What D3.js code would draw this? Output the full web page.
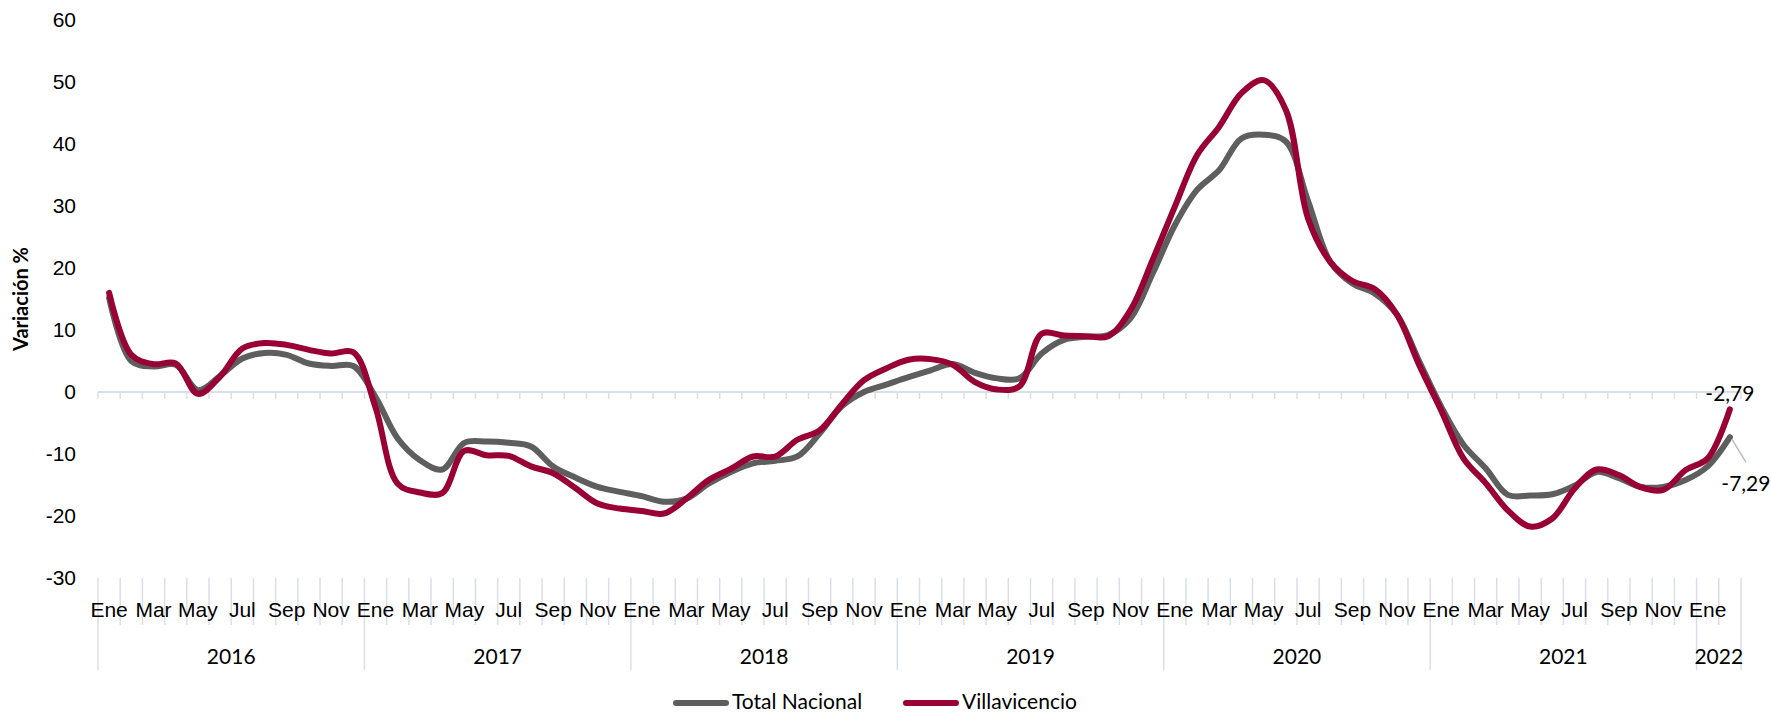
<!DOCTYPE html>
<html>
<head>
<meta charset="utf-8">
<script src="https://cdn.jsdelivr.net/npm/d3@7"></script>
<style>
  body { margin: 0; background: #fff; }
  svg { display: block; font-family: Lato, "Open Sans", sans-serif; }
  .lbl { fill: #000; font-size: 21px; }
</style>
</head>
<body>
<div id="chart"></div>
<script>
// categories
const monthNames = ["Ene", "Feb", "Mar", "Abr", "May", "Jun", "Jul", "Ago", "Sep", "Oct", "Nov", "Dic"]
const yearLabels = ["2016", "2017", "2018", "2019", "2020", "2021", "2022"]
const monthsPerYear = [12, 12, 12, 12, 12, 12, 2]

// series (variación %)
const totalNacional = [
    15.2, 5.0, 4.1, 4.4, 0.3, 2.6, 5.4, 6.3, 6.0, 4.6, 4.2, 4.2,
    -0.8, -7.5, -11.0, -12.5, -8.2, -8.0, -8.2, -8.8, -12.0, -13.8, -15.3, -16.1,
    -16.8, -17.7, -17.2, -14.8, -12.9, -11.5, -11.1, -10.4, -6.7, -2.3, 0.0, 1.2,
    2.4, 3.5, 4.5, 3.1, 2.2, 2.2, 6.2, 8.4, 8.9, 9.2, 11.9, 19.1,
    26.9, 32.6, 35.8, 40.9, 41.5, 40.4, 30.8, 21.0, 17.5, 15.9, 12.5, 5.0,
    -2.4, -8.5, -12.3, -16.6, -16.7, -16.5, -15.1, -12.9, -13.9, -15.3, -15.3, -14.2,
    -12.0, -7.29
]
const villavicencio = [
    16.0, 6.0, 4.5, 4.6, -0.3, 2.5, 7.0, 7.9, 7.6, 6.8, 6.2, 6.4,
    -2.5, -14.8, -16.2, -16.3, -9.5, -10.2, -10.3, -12.0, -13.1, -15.5, -18.0, -18.8,
    -19.2, -19.6, -17.2, -14.2, -12.4, -10.4, -10.4, -7.7, -6.2, -2.0, 1.9, 3.8,
    5.2, 5.3, 4.4, 1.6, 0.4, 0.9, 9.4, 9.1, 9.0, 9.0, 13.2, 21.3,
    29.9, 38.2, 42.8, 48.2, 50.3, 45.5, 28.0, 21.0, 17.9, 16.6, 12.5, 4.4,
    -3.0, -10.7, -14.7, -19.1, -21.7, -20.4, -15.6, -12.5, -13.4, -15.4, -15.8, -12.6,
    -10.7, -2.79
]
const yTicks = [-30, -20, -10, 0, 10, 20, 30, 40, 50, 60]

const series = [
    {name: "Total Nacional", values: totalNacional, color: "#5e5e5e"},
    {name: "Villavicencio", values: villavicencio, color: "#990033"},
]

// one category per month, labelled with its month and year
const categories = yearLabels.flatMap((yr, j) =>
    d3.range(monthsPerYear[j]).map(m => ({month: monthNames[m], year: yr, m}))
)

const width = 1771, height = 716
const lineColor = "#dadfe7"

const svg = d3.select("#chart").append("svg")
    .attr("width", width)
    .attr("height", height)

const x = d3.scaleBand()
    .domain(d3.range(categories.length))
    .range([98, 1741])

const y = d3.scaleLinear()
    .domain([-30, 60])
    .range([578, 20])

const cx = i => x(i) + x.bandwidth() / 2
const fmt = d3.formatLocale({decimal: ",", thousands: ".", grouping: [3], currency: ["", ""], minus: "-"}).format(".2f")

// value axis labels
svg.append("g")
    .attr("transform", "translate(76,0)")
    .call(d3.axisLeft(y).tickValues(yTicks).tickSize(0).tickPadding(0).tickFormat(d => String(d)))
    .call(g => g.select(".domain").remove())
    .selectAll("text")
    .attr("class", "lbl")
    .attr("font-family", null)
    .attr("font-size", null)

svg.append("text")
    .attr("class", "lbl")
    .attr("transform", `translate(28,${y(15)}) rotate(-90)`)
    .attr("text-anchor", "middle")
    .attr("font-weight", "bold")
    .style("font-size", "20px")
    .text("Variación %")

// category axis line at zero with tick marks
const y0 = y(0)
svg.append("line")
    .attr("x1", x.range()[0]).attr("x2", x.range()[1])
    .attr("y1", y0).attr("y2", y0)
    .attr("stroke", lineColor).attr("stroke-width", 2)

const bounds = d3.range(categories.length + 1).map(k => x.range()[0] + k * x.step())
svg.append("g").selectAll("line")
    .data(bounds)
    .enter()
    .append("line")
    .attr("x1", d => d).attr("x2", d => d)
    .attr("y1", y0).attr("y2", y0 + 7)
    .attr("stroke", lineColor).attr("stroke-width", 1.5)

// label area separators (months short, years long)
const yearStarts = new Set([...d3.cumsum([0, ...monthsPerYear])])
svg.append("g").selectAll("line")
    .data(bounds)
    .enter()
    .append("line")
    .attr("x1", d => d).attr("x2", d => d)
    .attr("y1", y(-30))
    .attr("y2", (d, k) => yearStarts.has(k) ? 670 : 625)
    .attr("stroke", lineColor).attr("stroke-width", 1.5)

// month labels every other month
svg.append("g")
    .attr("transform", "translate(0,610)")
    .call(d3.axisBottom(x)
        .tickValues(d3.range(categories.length).filter(i => i % 2 === 0))
        .tickSize(0).tickPadding(0)
        .tickFormat(i => categories[i].month))
    .call(g => g.select(".domain").remove())
    .selectAll("text")
    .attr("class", "lbl")
    .attr("font-family", null)
    .attr("font-size", null)
    .attr("dy", "0.35em")

// year labels centred on their months
const yearOffsets = d3.cumsum([0, ...monthsPerYear])
svg.append("g").selectAll("text")
    .data(yearLabels)
    .enter()
    .append("text")
    .attr("class", "lbl")
    .attr("text-anchor", "middle")
    .attr("x", (d, j) => (x(yearOffsets[j]) + x(yearOffsets[j + 1] - 1) + x.bandwidth()) / 2)
    .attr("y", 657)
    .attr("dy", "0.35em")
    .text(d => d)

// lines
const line = d3.line()
    .x((d, i) => cx(i))
    .y(d => y(d))
    .curve(d3.curveCatmullRom.alpha(0.5))

svg.append("g").selectAll("path")
    .data(series)
    .enter()
    .append("path")
    .attr("d", s => line(s.values))
    .attr("fill", "none")
    .attr("stroke", s => s.color)
    .attr("stroke-width", 6)
    .attr("stroke-linecap", "round")
    .attr("stroke-linejoin", "round")

// end labels
const last = categories.length - 1
svg.append("text")
    .attr("class", "lbl")
    .attr("text-anchor", "middle")
    .attr("x", cx(last))
    .attr("y", y(villavicencio[last]) - 16)
    .attr("dy", "0.35em")
    .text(fmt(villavicencio[last]))

svg.append("line")
    .attr("x1", cx(last) + 2).attr("y1", y(totalNacional[last]) + 2)
    .attr("x2", cx(last) + 16).attr("y2", y(totalNacional[last]) + 25)
    .attr("stroke", "#b4bfcc").attr("stroke-width", 1.5)

svg.append("text")
    .attr("class", "lbl")
    .attr("text-anchor", "middle")
    .attr("x", cx(last) + 16)
    .attr("y", y(totalNacional[last]) + 46)
    .attr("dy", "0.35em")
    .text(fmt(totalNacional[last]))

// legend
const legend = svg.append("g").selectAll("g")
    .data(series)
    .enter()
    .append("g")
    .attr("transform", (d, i) => `translate(${[676, 906][i]},703)`)

legend.append("line")
    .attr("x1", 0).attr("x2", 50)
    .attr("stroke", d => d.color)
    .attr("stroke-width", 6)
    .attr("stroke-linecap", "round")

legend.append("text")
    .attr("class", "lbl")
    .attr("x", 56)
    .attr("dy", "0.3em")
    .style("font-size", "21px")
    .text(d => d.name)
</script>
</body>
</html>
